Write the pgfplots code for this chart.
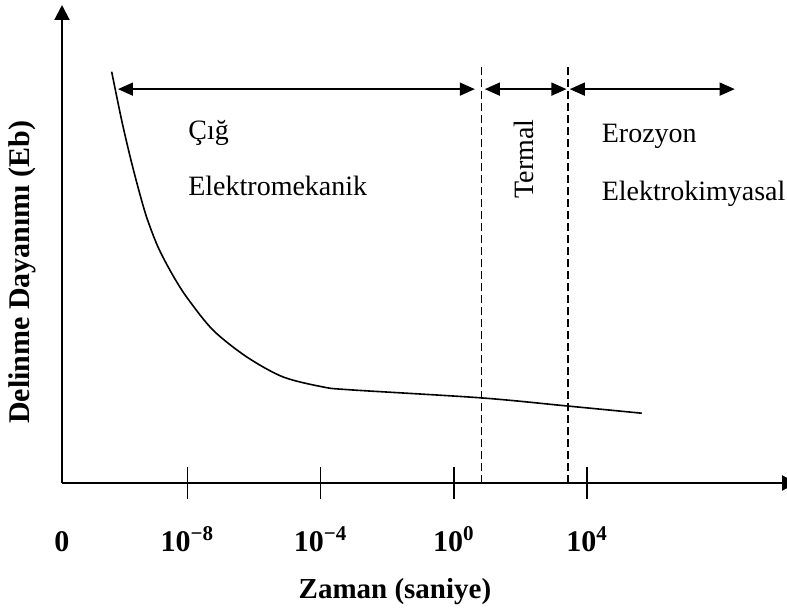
\documentclass[border=0pt]{standalone}
\usepackage{fontspec}
\setmainfont{Liberation Serif}
\usepackage{pgfplots}
\pgfplotsset{compat=1.18}
\usetikzlibrary{arrows.meta}
\begin{document}
\begin{tikzpicture}[font=\fontsize{14pt}{16pt}\selectfont]
\begin{axis}[
  x=16.66pt, y=2.39pt,
  xmin=-11.76, xmax=10.3, ymin=0, ymax=100,
  axis lines=left,
  axis line style={line width=1pt},
  x axis line style={-{Triangle[length=7.5pt,width=7.5pt]}},
  y axis line style={-{Triangle[length=7.5pt,width=7.5pt]}},
  xtick={-8,-4,0,4},
  xticklabels={\textbf{10}\textsuperscript{\textbf{−8}},\textbf{10}\textsuperscript{\textbf{−4}},\textbf{10}\textsuperscript{\textbf{0}},\textbf{10}\textsuperscript{\textbf{4}}},
  extra x ticks={-11.76},
  extra x tick labels={\textbf{0}},
  extra x tick style={tick style={draw=none}},
  ytick=\empty,
  tick align=center,
  major tick length=16pt,
  tick style={line width=0.75pt, black},
  xticklabel style={anchor=base, yshift=-26pt, font=\fontsize{15pt}{17pt}\selectfont},
  xlabel={\textbf{Zaman (saniye)}},
  ylabel={\textbf{Delinme Dayanımı (Eb)}},
  xlabel style={at={(axis description cs:0.453,-0.228)}, anchor=center, font=\fontsize{14.5pt}{17pt}\selectfont},
  ylabel style={at={(axis description cs:-0.054,0.441)}, anchor=center, font=\fontsize{15pt}{17pt}\selectfont},
  clip=false,
]
\addplot[smooth, line width=0.8pt, black] coordinates {
  (-10.27,86.05) (-9.97,75.9) (-9.72,68.4) (-9.48,61.9) (-9.22,55.6)
  (-8.88,49.4) (-8.47,43.9) (-8.02,38.9) (-7.23,32.0) (-6.22,26.4) (-5.13,22.2)
  (-3.93,20.1) (-3.12,19.5) (0.84,17.8) (3.42,16.1) (5.64,14.6)
};
% dashed region borders
\addplot[dash pattern=on 4pt off 2pt, line width=0.9pt, black] coordinates {(0.83,0) (0.83,87.4)};
\addplot[dash pattern=on 4pt off 2pt, line width=0.9pt, black] coordinates {(3.43,0) (3.43,87.4)};
% region arrows
\addplot[line width=0.75pt, black, {Triangle[length=7.5pt,width=6.5pt]}-{Triangle[length=7.5pt,width=6.5pt]}] coordinates {(-10.08,82.4) (0.63,82.4)};
\addplot[line width=0.75pt, black, {Triangle[length=7.5pt,width=6.5pt]}-{Triangle[length=7.5pt,width=6.5pt]}] coordinates {(0.93,82.4) (3.38,82.4)};
\addplot[line width=0.75pt, black, {Triangle[length=7.5pt,width=6.5pt]}-{Triangle[length=7.5pt,width=6.5pt]}] coordinates {(3.48,82.4) (8.43,82.4)};
% region labels
\node[anchor=base west, inner sep=0pt] at (axis cs:-7.98,71.76) {Çığ};
\node[anchor=base west, inner sep=0pt] at (axis cs:-7.98,60.25) {Elektromekanik};
\node[anchor=base west, inner sep=0pt] at (axis cs:4.43,71.13) {Erozyon};
\node[anchor=base west, inner sep=0pt] at (axis cs:4.43,59.2) {Elektrokimyasal};
\node[rotate=90, anchor=center, inner sep=0pt] at (axis cs:2.10,67.8) {Termal};
\end{axis}
\pgfresetboundingbox
\path[use as bounding box] (-31pt,-64pt) rectangle (362.5pt,241.5pt);
\end{tikzpicture}
\end{document}
